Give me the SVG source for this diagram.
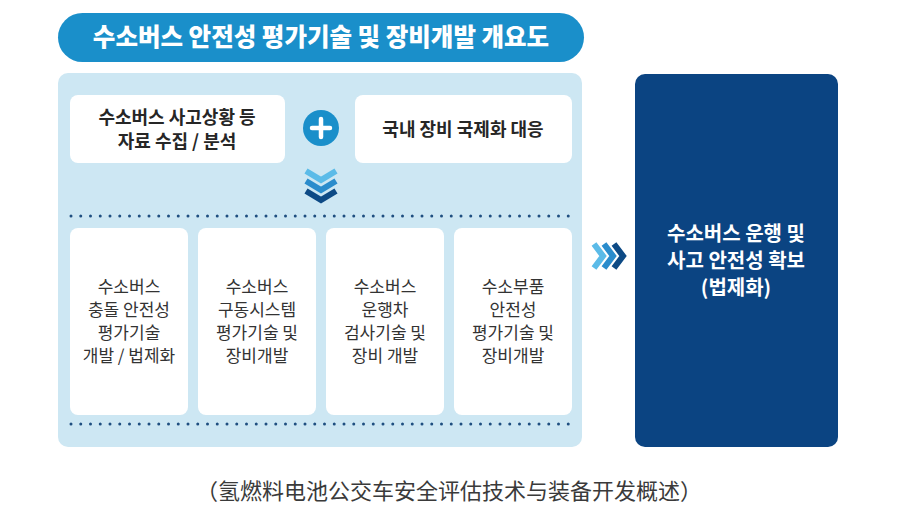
<svg xmlns="http://www.w3.org/2000/svg" width="900" height="510" viewBox="0 0 900 510">
<defs>
<style>
.ko{font-family:"Noto Sans CJK KR","Noto Sans",sans-serif;text-anchor:middle}
.title{font-size:24.5px;font-weight:900;fill:#ffffff}
.top{font-size:18px;font-weight:700;fill:#262626}
.card{font-size:17px;font-weight:400;fill:#333333}
.res{font-size:20px;font-weight:700;fill:#ffffff}
.cap{font-family:"Noto Sans CJK SC","Noto Sans",sans-serif;font-size:22px;fill:#3a3a3a;text-anchor:middle}
.box{fill:#ffffff}
.dots{stroke:#1f4f80;stroke-width:3;stroke-linecap:round;stroke-dasharray:0 9.75;fill:none}
.chev{fill:none;stroke-width:6;stroke-linecap:butt;stroke-linejoin:miter}
</style>
</defs>
<rect width="900" height="510" fill="#ffffff"/>

<g id="title">
<rect x="58" y="13" width="526" height="49" rx="24.5" fill="#1a8fca"/>
<text class="ko title" x="321" y="46">수소버스 안전성 평가기술 및 장비개발 개요도</text>
</g>

<g id="panel">
<rect x="58" y="73" width="524" height="374" rx="10" fill="#cde7f3"/>
<line class="dots" x1="71" y1="216" x2="571" y2="216"/>
<line class="dots" x1="71" y1="424" x2="571" y2="424"/>
</g>

<g id="input1">
<rect class="box" x="70" y="95" width="215" height="68" rx="8"/>
<text class="ko top" x="177" y="124">수소버스 사고상황 등</text>
<text class="ko top" x="177" y="148">자료 수집 / 분석</text>
</g>

<g id="plus">
<circle cx="321" cy="128" r="18" fill="#1a8fca"/>
<path d="M312 128H330M321 119V137" stroke="#ffffff" stroke-width="4.5" stroke-linecap="round"/>
</g>

<g id="input2">
<rect class="box" x="355" y="95" width="217" height="68" rx="8"/>
<text class="ko top" x="463" y="136">국내 장비 국제화 대응</text>
</g>

<g id="card1">
<rect class="box" x="70" y="228" width="118" height="187" rx="8"/>
<text class="ko card" x="129" y="293">수소버스</text>
<text class="ko card" x="129" y="316">충돌 안전성</text>
<text class="ko card" x="129" y="339">평가기술</text>
<text class="ko card" x="129" y="362">개발 / 법제화</text>
</g>
<g id="card2">
<rect class="box" x="198" y="228" width="118" height="187" rx="8"/>
<text class="ko card" x="257" y="293">수소버스</text>
<text class="ko card" x="257" y="316">구동시스템</text>
<text class="ko card" x="257" y="339">평가기술 및</text>
<text class="ko card" x="257" y="362">장비개발</text>
</g>
<g id="card3">
<rect class="box" x="326" y="228" width="118" height="187" rx="8"/>
<text class="ko card" x="385" y="293">수소버스</text>
<text class="ko card" x="385" y="316">운행차</text>
<text class="ko card" x="385" y="339">검사기술 및</text>
<text class="ko card" x="385" y="362">장비 개발</text>
</g>
<g id="card4">
<rect class="box" x="454" y="228" width="118" height="187" rx="8"/>
<text class="ko card" x="513" y="293">수소부품</text>
<text class="ko card" x="513" y="316">안전성</text>
<text class="ko card" x="513" y="339">평가기술 및</text>
<text class="ko card" x="513" y="362">장비개발</text>
</g>

<g id="result">
<rect x="635" y="74" width="203" height="373" rx="10" fill="#0b4482"/>
<text class="ko res" x="736" y="241">수소버스 운행 및</text>
<text class="ko res" x="736" y="268">사고 안전성 확보</text>
<text class="ko res" x="736" y="295">(법제화)</text>
</g>

<g id="connectors">
<path class="chev" d="M306 171L321 180L336 171" stroke="#5bbbe8"/>
<path class="chev" d="M306 181L321 190L336 181" stroke="#2a8ccc"/>
<path class="chev" d="M306 191L321 200L336 191" stroke="#0d4a85"/>
<path class="chev" d="M594 244L603 256L594 268" stroke="#5bbbe8"/>
<path class="chev" d="M604 244L613 256L604 268" stroke="#2a8ccc"/>
<path class="chev" d="M614 244L623 256L614 268" stroke="#0d4a85"/>
</g>

<text class="cap" x="449" y="499">（氢燃料电池公交车安全评估技术与装备开发概述）</text>
</svg>
